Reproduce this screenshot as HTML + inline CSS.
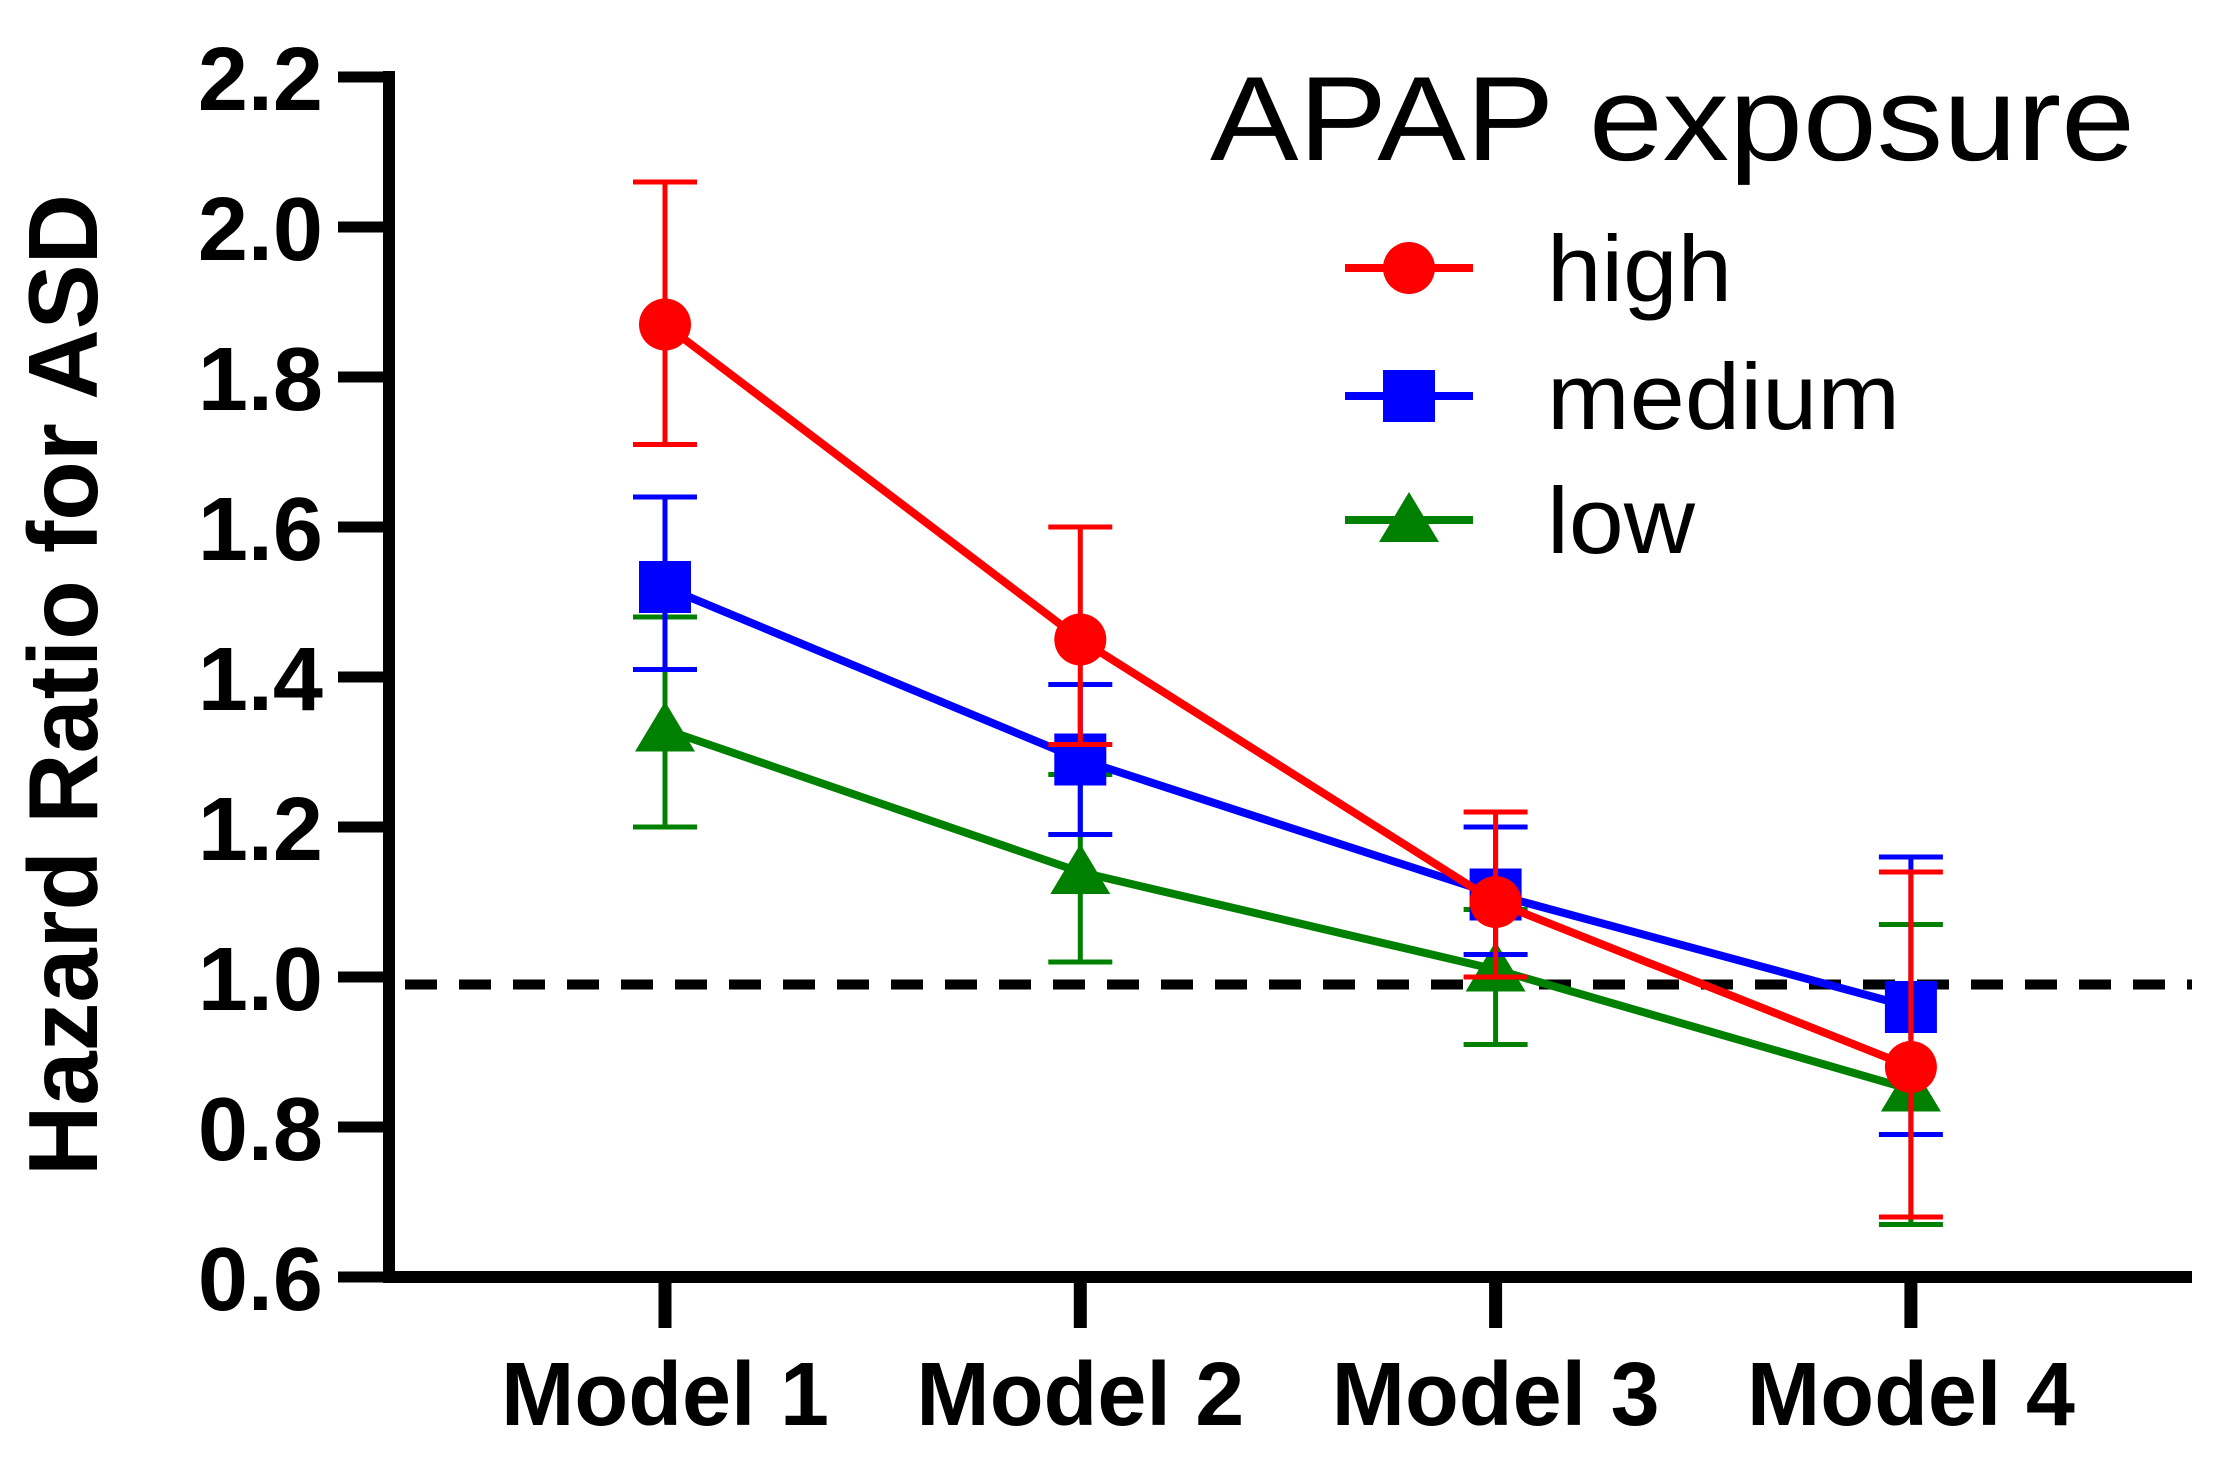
<!DOCTYPE html>
<html><head><meta charset="utf-8"><style>
html,body{margin:0;padding:0;background:#fff}
svg{display:block}
text{font-family:"Liberation Sans",Arial,sans-serif}
</style></head><body>
<svg id="chart" width="2231" height="1460" viewBox="0 0 2231 1460">
<g id="axes"></g>
<g id="plot"></g>
<g id="legend"></g>
</svg>
<script>
const categories = ["Model 1","Model 2","Model 3","Model 4"];
const yTicks = [0.6,0.8,1.0,1.2,1.4,1.6,1.8,2.0,2.2];
const seriesNames = ["high","medium","low"];
const seriesColors = ["#ff0000","#0000ff","#008000"];
const highVals = [1.87,1.45,1.10,0.88];
const highLo = [1.71,1.31,1.00,0.68];
const highHi = [2.06,1.60,1.22,1.14];
const medVals = [1.52,1.29,1.11,0.96];
const medLo = [1.41,1.19,1.03,0.79];
const medHi = [1.64,1.39,1.20,1.16];
const lowVals = [1.33,1.14,1.01,0.85];
const lowLo = [1.20,1.02,0.91,0.67];
const lowHi = [1.48,1.27,1.09,1.07];
const refLine = 0.99;

const NS="http://www.w3.org/2000/svg";
const X0=389, Y0=1277, YTOP=77;
function yS(v){return Y0-(v-0.6)/1.6*(Y0-YTOP);}
function xS(i){return 665+i*415.3;}
function mk(tag,attrs,parent){const e=document.createElementNS(NS,tag);for(const k in attrs)e.setAttribute(k,attrs[k]);parent.appendChild(e);return e;}
const axes=document.getElementById('axes'),plot=document.getElementById('plot'),legend=document.getElementById('legend');

let e=mk('line',{x1:X0,y1:YTOP-6,x2:X0,y2:Y0+6,stroke:'#000','stroke-width':12},axes);


e=mk('line',{x1:X0-6,y1:Y0,x2:2192,y2:Y0,stroke:'#000','stroke-width':12},axes);


yTicks.forEach(t=>{
  const y=yS(t);
  let l=mk('line',{x1:338,y1:y,x2:X0,y2:y,stroke:'#000','stroke-width':11},axes);
  
  
  let tx=mk('text',{x:323,y:y+33,'text-anchor':'end','font-size':90,'font-weight':'bold'},axes);
  tx.textContent=t.toFixed(1);
  
  
});
categories.forEach((c,i)=>{
  const x=xS(i);
  let l=mk('line',{x1:x,y1:Y0,x2:x,y2:1328,stroke:'#000','stroke-width':13},axes);
  
  
  let tx=mk('text',{x:x-164,y:1425,'font-size':90,'font-weight':'bold',textLength:328,lengthAdjust:'spacingAndGlyphs'},axes);
  tx.textContent=c;
  
  
});
e=mk('text',{x:-491,y:0,transform:'translate(97,685) rotate(-90)','font-size':98,'font-weight':'bold',textLength:982,lengthAdjust:'spacingAndGlyphs'},axes);
e.textContent='Hazard Ratio for ASD';


e=mk('line',{x1:405,y1:yS(refLine),x2:2192,y2:yS(refLine),stroke:'#000','stroke-width':10,'stroke-dasharray':'32 22'},plot);



const allV=[highVals,medVals,lowVals],allLo=[highLo,medLo,lowLo],allHi=[highHi,medHi,lowHi];
function marker(s,x,y,parent){
  const c=seriesColors[s];let m;
  if(s===0)m=mk('circle',{cx:x,cy:y,r:26,fill:c},parent);
  else if(s===1)m=mk('rect',{x:x-26,y:y-26,width:52,height:52,fill:c},parent);
  else m=mk('polygon',{points:`${x},${y-28} ${x-30},${y+22} ${x+30},${y+22}`,fill:c},parent);
  return m;
}
[2,1,0].forEach(s=>{
  const g=mk('g',{},plot);
  
  
  const c=seriesColors[s];
  allV[s].forEach((v,i)=>{
    const x=xS(i);
    const eb=mk('path',{d:`M${x},${yS(allLo[s][i])}V${yS(allHi[s][i])}M${x-32},${yS(allLo[s][i])}H${x+32}M${x-32},${yS(allHi[s][i])}H${x+32}`,stroke:c,'stroke-width':5,fill:'none'},g);
    
    
  });
  const pts=allV[s].map((v,i)=>xS(i)+','+yS(v)).join(' ');
  const pl=mk('polyline',{points:pts,stroke:c,'stroke-width':8,fill:'none'},g);
  
  
  allV[s].forEach((v,i)=>{
    const m=marker(s,xS(i),yS(v),g);
    
    
  });
});
e=mk('text',{x:1210,y:160,'font-size':120,textLength:925,lengthAdjust:'spacingAndGlyphs'},legend);
e.textContent='APAP exposure';


const legW=[185,353,148];
seriesNames.forEach((n,s)=>{
  const y=[268,396,520][s];
  const g=mk('g',{},legend);
  
  
  mk('line',{x1:1345,y1:y,x2:1473,y2:y,stroke:seriesColors[s],'stroke-width':8},g);
  marker(s,1409,y,g);
  const t=mk('text',{x:1547,y:y+33,'font-size':94,textLength:legW[s],lengthAdjust:'spacingAndGlyphs'},g);
  t.textContent=n;
});
</script>
</body></html>
